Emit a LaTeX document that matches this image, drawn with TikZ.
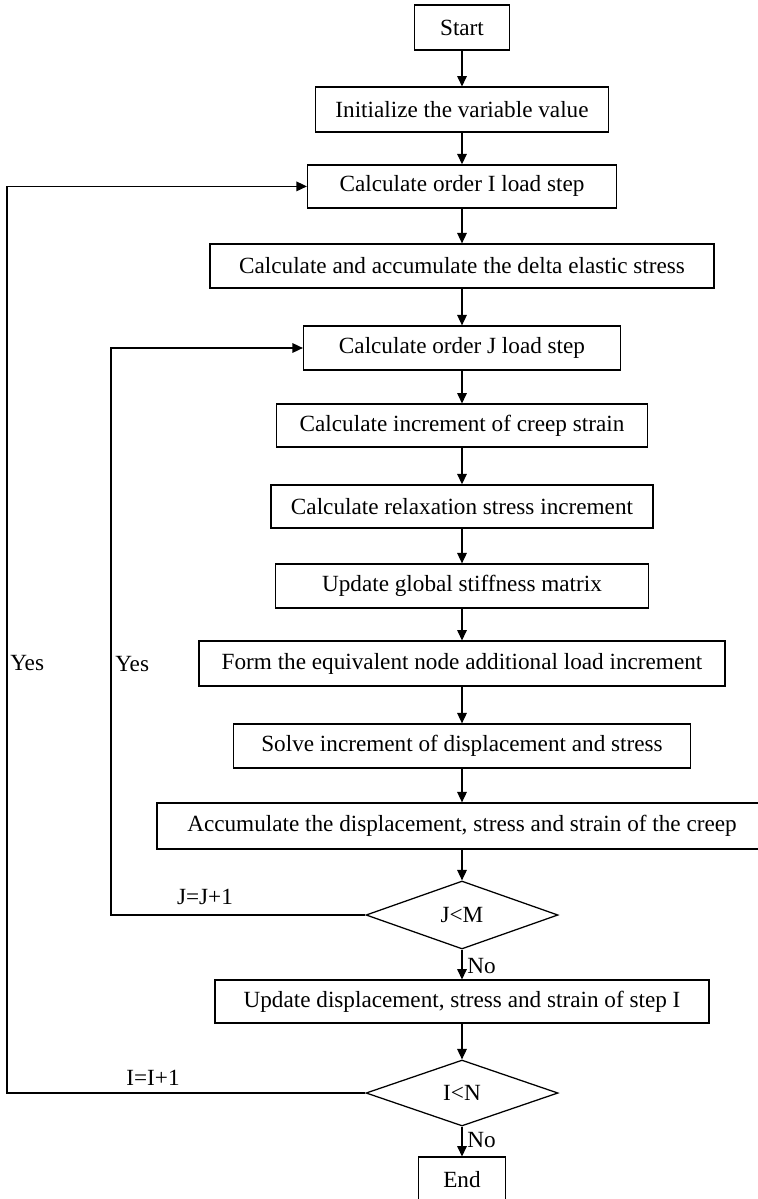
\documentclass[tikz,border=0pt]{standalone}
\usepackage{fontspec}
\setmainfont{Liberation Serif}
\usepackage{tikz}
\usetikzlibrary{shapes,arrows.meta,positioning,calc}

\begin{document}
\begin{tikzpicture}[
    font=\fontsize{16.5}{19}\selectfont,
    stepbox/.style={rectangle, draw=black, line width=0.9pt, minimum height=1.1cm, inner sep=0pt},
    check/.style={diamond, draw=black, line width=0.9pt, minimum width=4.8cm, minimum height=1.7cm, inner sep=0pt},
    flow/.style={-{Triangle[length=2.6mm,width=2.4mm]}, line width=0.8pt},
    back/.style={line width=0.8pt},
    lbl/.style={inner sep=0pt}
]
\useasboundingbox (0,0) rectangle (18.925,-29.975);

% Steps
\node[stepbox, minimum width=2.375cm, minimum height=1.125cm] (start) at (11.55,-0.69) {Start};
\node[stepbox, minimum width=7.325cm, minimum height=1.125cm] (init) at (11.55,-2.74) {Initialize the variable value};
\node[stepbox, minimum width=7.725cm, minimum height=1.075cm] (calcI) at (11.55,-4.66) {Calculate order I load step};
\node[stepbox, minimum width=12.6cm] (elastic) at (11.55,-6.65) {Calculate and accumulate the delta elastic stress};
\node[stepbox, minimum width=7.925cm] (calcJ) at (11.55,-8.70) {Calculate order J load step};
\node[stepbox, minimum width=9.275cm, minimum height=1.075cm] (creep) at (11.55,-10.64) {Calculate increment of creep strain};
\node[stepbox, minimum width=9.55cm, minimum height=1.075cm] (relax) at (11.55,-12.66) {Calculate relaxation stress increment};
\node[stepbox, minimum width=9.325cm] (global) at (11.55,-14.65) {Update global stiffness matrix};
\node[stepbox, minimum width=13.15cm, minimum height=1.125cm] (form) at (11.55,-16.59) {Form the equivalent node additional load increment};
\node[stepbox, minimum width=11.425cm] (solve) at (11.55,-18.65) {Solve increment of displacement and stress};
\node[stepbox, minimum width=15.25cm, minimum height=1.15cm] (accum) at (11.55,-20.65) {Accumulate the displacement, stress and strain of the creep};
\node[check] (jm) at (11.55,-22.875) {J<M};
\node[stepbox, minimum width=12.35cm, minimum height=1.075cm] (upd) at (11.55,-25.04) {Update displacement, stress and strain of step I};
\node[check, minimum height=1.65cm] (in) at (11.55,-27.325) {I<N};
\node[stepbox, minimum width=2.175cm, minimum height=1.125cm] (end) at (11.55,-29.49) {End};

% Loop columns
\coordinate (outer) at (0.175,0);
\coordinate (inner) at (2.775,0);

% Main flow
\draw[flow] (start) -- (init);
\draw[flow] (init) -- (calcI);
\draw[flow] (calcI) -- (elastic);
\draw[flow] (elastic) -- (calcJ);
\draw[flow] (calcJ) -- (creep);
\draw[flow] (creep) -- (relax);
\draw[flow] (relax) -- (global);
\draw[flow] (global) -- (form);
\draw[flow] (form) -- (solve);
\draw[flow] (solve) -- (accum);
\draw[flow] (accum) -- (jm);
\draw[flow] (jm) -- (upd);
\draw[flow] (upd) -- (in);
\draw[flow] (in) -- (end);

% Loops
\draw[flow] (jm.west) -- (jm.west -| inner) |- (calcJ.west);
\draw[flow] (in.west) -- (in.west -| outer) |- (calcI.west);

% Labels
\node[lbl, anchor=west] (yesI) at (0.25,-16.58) {Yes};
\node[lbl, anchor=west] (yesJ) at (2.875,-16.6) {Yes};
\node[lbl] (incJ) at (5.125,-22.43) {J=J+1};
\node[lbl] (incI) at (3.825,-26.95) {I=I+1};
\node[lbl, anchor=west] (noJ) at (11.68,-24.15) {No};
\node[lbl, anchor=west] (noI) at (11.68,-28.5) {No};

\end{tikzpicture}
\end{document}
